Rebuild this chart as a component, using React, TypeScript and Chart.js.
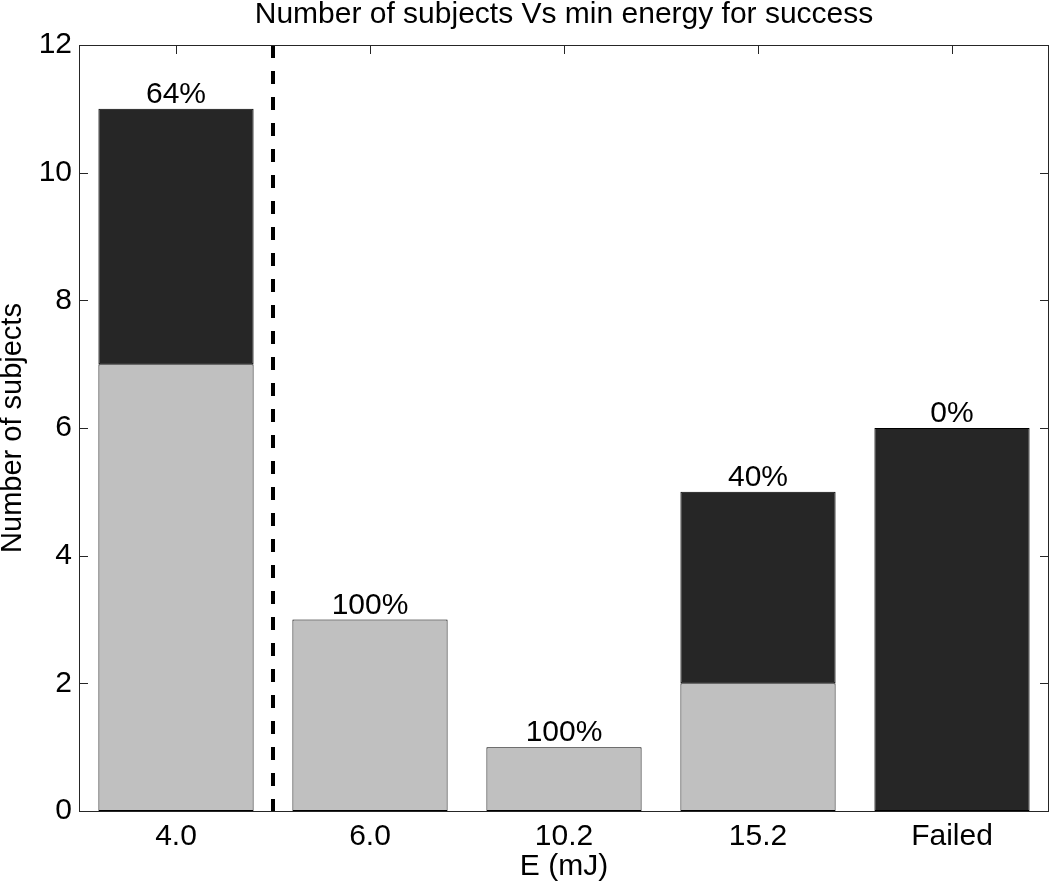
import React, { useEffect, useRef } from "react";
import { Chart, registerables } from "chart.js";

Chart.register(...registerables);

const categories = ["4.0", "6.0", "10.2", "15.2", "Failed"];
const successCounts: (number | null)[] = [7, 3, 1, 2, null];
const failCounts: (number | null)[] = [4, null, null, 3, 6];
const percentLabels = ["64%", "100%", "100%", "40%", "0%"];
const yTicks = [0, 2, 4, 6, 8, 10, 12];

const FONT = "'Liberation Sans', Arial, Helvetica, sans-serif";
const LIGHT = "#c0c0c0";
const DARK = "#262626";

const decorPlugin = {
  id: "decor",
  beforeDatasetsDraw(chart: any) {
    const { ctx, chartArea, scales } = chart;
    const { left, right, top, bottom } = chartArea;
    ctx.save();
    ctx.strokeStyle = "#262626";
    ctx.lineWidth = 1;
    const tl = 9;
    yTicks.forEach((v) => {
      const y = Math.round(scales.y.getPixelForValue(v)) + 0.5;
      ctx.beginPath();
      ctx.moveTo(left, y);
      ctx.lineTo(left + tl, y);
      ctx.moveTo(right, y);
      ctx.lineTo(right - tl, y);
      ctx.stroke();
    });
    categories.forEach((_, i) => {
      const x = Math.round(scales.x.getPixelForValue(i)) + 0.5;
      ctx.beginPath();
      ctx.moveTo(x, top);
      ctx.lineTo(x, top + tl);
      ctx.moveTo(x, bottom);
      ctx.lineTo(x, bottom - tl);
      ctx.stroke();
    });
    ctx.restore();
  },
  afterDatasetsDraw(chart: any) {
    const { ctx, chartArea, scales } = chart;
    const { left, right, top, bottom } = chartArea;
    ctx.save();
    const xd = (scales.x.getPixelForValue(0) + scales.x.getPixelForValue(1)) / 2;
    ctx.strokeStyle = "#000";
    ctx.lineWidth = 4;
    ctx.setLineDash([13, 13]);
    ctx.beginPath();
    ctx.moveTo(xd, top);
    ctx.lineTo(xd, bottom);
    ctx.stroke();
    ctx.setLineDash([]);

    ctx.fillStyle = "#000";
    ctx.font = `30px ${FONT}`;
    ctx.textAlign = "center";
    ctx.textBaseline = "alphabetic";
    categories.forEach((_, i) => {
      const total = (successCounts[i] || 0) + (failCounts[i] || 0);
      const x = scales.x.getPixelForValue(i);
      const y = scales.y.getPixelForValue(total) - 6;
      ctx.fillText(percentLabels[i], x, y);
    });

    ctx.strokeStyle = "#262626";
    ctx.lineWidth = 1;
    ctx.strokeRect(Math.round(left) + 0.5, Math.round(top) + 0.5, Math.round(right - left) - 1, Math.round(bottom - top));
    ctx.restore();
  },
};

export default function App() {
  const ref = useRef<HTMLCanvasElement | null>(null);
  useEffect(() => {
    if (!ref.current) return;
    const chart = new Chart(ref.current, {
      type: "bar",
      data: {
        labels: categories,
        datasets: [
          {
            label: "Success",
            data: successCounts,
            backgroundColor: LIGHT,
            borderColor: "#000",
            borderWidth: 1,
            borderSkipped: false,
            barPercentage: 0.8,
            categoryPercentage: 1,
          },
          {
            label: "Fail",
            data: failCounts,
            backgroundColor: DARK,
            borderColor: "#000",
            borderWidth: 1,
            borderSkipped: false,
            barPercentage: 0.8,
            categoryPercentage: 1,
          },
        ],
      },
      options: {
        responsive: false,
        animation: false,
        devicePixelRatio: 1,
        layout: { padding: { left: 0, right: 1, top: 0, bottom: 0 } },
        plugins: {
          legend: { display: false },
          tooltip: { enabled: false },
          title: {
            display: true,
            text: "Number of subjects Vs min energy for success",
            fullSize: false,
            color: "#000",
            font: { family: FONT, size: 30, weight: "normal" as any, lineHeight: 1.2 },
            padding: { top: -3, bottom: 12 },
          },
        },
        scales: {
          x: {
            stacked: true,
            offset: true,
            grid: { display: false, drawTicks: false },
            border: { display: false },
            ticks: { color: "#000", font: { family: FONT, size: 30 }, padding: 8, maxRotation: 0 },
            title: {
              display: true,
              text: "E (mJ)",
              color: "#000",
              font: { family: FONT, size: 30, lineHeight: 1.2 },
              padding: { top: 0, bottom: 0 },
            },
            afterFit: (s: any) => {
              s.height = 74;
            },
          },
          y: {
            stacked: true,
            min: 0,
            max: 12,
            grid: { display: false, drawTicks: false },
            border: { display: false },
            ticks: {
              stepSize: 2,
              color: "#000",
              font: { family: FONT, size: 30 },
              padding: 7,
            },
            title: {
              display: true,
              text: "Number of subjects",
              color: "#000",
              font: { family: FONT, size: 29, lineHeight: 1.2 },
              padding: { top: -4, bottom: 0 },
            },
            afterFit: (s: any) => {
              s.width = 79;
            },
          },
        },
      },
      plugins: [decorPlugin],
    });
    return () => chart.destroy();
  }, []);
  return (
    <div style={{ position: "fixed", left: 0, top: 0, width: 1050, height: 885, background: "#fff" }}>
      <canvas ref={ref} width={1050} height={885} style={{ display: "block" }} />
    </div>
  );
}
